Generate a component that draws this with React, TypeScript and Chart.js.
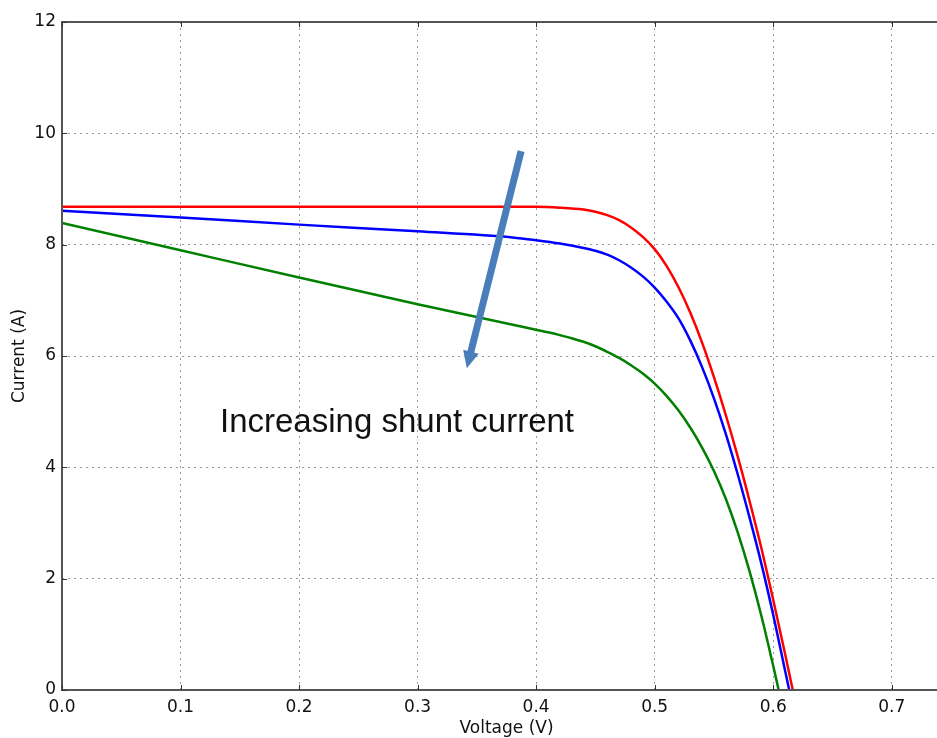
import React, { useEffect, useRef } from "react";
import { Chart, registerables } from "chart.js";

Chart.register(...registerables);

// Voltage (V) / Current (A) readings for each curve
const redV = [0, 0.1, 0.2, 0.3, 0.4, 0.42, 0.44, 0.45, 0.46, 0.47, 0.48, 0.49, 0.5, 0.51, 0.52, 0.53, 0.54, 0.55, 0.56, 0.57, 0.58, 0.59, 0.6, 0.61, 0.6165];
const redI = [8.68, 8.68, 8.68, 8.68, 8.68, 8.665, 8.63, 8.59, 8.53, 8.44, 8.31, 8.14, 7.92, 7.62, 7.24, 6.78, 6.24, 5.62, 4.94, 4.2, 3.4, 2.55, 1.62, 0.65, 0];

const blueV = [0, 0.1, 0.2, 0.3, 0.38, 0.4, 0.42, 0.44, 0.45, 0.46, 0.47, 0.48, 0.49, 0.5, 0.51, 0.52, 0.53, 0.54, 0.55, 0.56, 0.57, 0.58, 0.59, 0.6, 0.61, 0.6135];
const blueI = [8.61, 8.49, 8.36, 8.24, 8.13, 8.08, 8.02, 7.94, 7.89, 7.82, 7.72, 7.59, 7.43, 7.23, 6.98, 6.68, 6.28, 5.8, 5.24, 4.6, 3.88, 3.1, 2.27, 1.35, 0.35, 0];

const greenV = [0, 0.1, 0.2, 0.3, 0.4, 0.41, 0.42, 0.43, 0.44, 0.45, 0.46, 0.47, 0.48, 0.49, 0.5, 0.51, 0.52, 0.53, 0.54, 0.55, 0.56, 0.57, 0.58, 0.59, 0.6, 0.6046];
const greenI = [8.39, 7.9, 7.41, 6.93, 6.47, 6.425, 6.375, 6.32, 6.255, 6.175, 6.075, 5.965, 5.835, 5.685, 5.505, 5.285, 5.025, 4.715, 4.355, 3.935, 3.435, 2.835, 2.135, 1.335, 0.435, 0];

const xTickValues = [0, 0.1, 0.2, 0.3, 0.4, 0.5, 0.6, 0.7];
const yTickValues = [0, 2, 4, 6, 8, 10, 12];

const xLabel = "Voltage (V)";
const yLabel = "Current (A)";
const annotationText = "Increasing shunt current";
// arrow from (V, I) to (V, I)
const arrowStart = [0.3873, 9.68];
const arrowEnd = [0.3415, 5.78];

const zip = (xs: number[], ys: number[]) => xs.map((x, i) => ({ x, y: ys[i] }));

const overlay = {
  id: "overlay",
  afterDatasetsDraw(chart: any) {
    const { ctx, chartArea, scales } = chart;
    const { left, top, right, bottom } = chartArea;
    const xs = scales.x;
    const ys = scales.y;
    ctx.save();
    // frame
    ctx.strokeStyle = "#555";
    ctx.lineWidth = 2;
    ctx.setLineDash([]);
    ctx.beginPath();
    ctx.rect(left, top, right - left, bottom - top);
    ctx.stroke();
    // inward ticks
    ctx.lineWidth = 1;
    ctx.strokeStyle = "#333";
    ctx.beginPath();
    for (const v of xTickValues) {
      const px = Math.round(xs.getPixelForValue(v)) + 0.5;
      ctx.moveTo(px, bottom);
      ctx.lineTo(px, bottom - 5);
      ctx.moveTo(px, top);
      ctx.lineTo(px, top + 5);
    }
    for (const v of yTickValues) {
      const py = Math.round(ys.getPixelForValue(v)) + 0.5;
      ctx.moveTo(left, py);
      ctx.lineTo(left + 5, py);
      ctx.moveTo(right, py);
      ctx.lineTo(right - 5, py);
    }
    ctx.stroke();

    // arrow
    const x1 = xs.getPixelForValue(arrowStart[0]);
    const y1 = ys.getPixelForValue(arrowStart[1]);
    const x2 = xs.getPixelForValue(arrowEnd[0]);
    const y2 = ys.getPixelForValue(arrowEnd[1]);
    const ang = Math.atan2(y2 - y1, x2 - x1);
    const headLen = 17;
    const headW = 8;
    const bx = x2 - headLen * Math.cos(ang);
    const by = y2 - headLen * Math.sin(ang);
    ctx.strokeStyle = "#4a7ebb";
    ctx.fillStyle = "#4a7ebb";
    ctx.lineWidth = 7;
    ctx.lineCap = "butt";
    ctx.beginPath();
    ctx.moveTo(x1, y1);
    ctx.lineTo(bx + 2 * Math.cos(ang), by + 2 * Math.sin(ang));
    ctx.stroke();
    ctx.beginPath();
    ctx.moveTo(x2, y2);
    ctx.lineTo(bx + headW * Math.sin(ang), by - headW * Math.cos(ang));
    ctx.lineTo(bx - headW * Math.sin(ang), by + headW * Math.cos(ang));
    ctx.closePath();
    ctx.fill();

    // annotation text
    ctx.fillStyle = "#111";
    ctx.font = "33px 'Liberation Sans', Arial, sans-serif";
    ctx.textBaseline = "alphabetic";
    ctx.textAlign = "left";
    ctx.fillText(annotationText, 220, 432);

    // axis titles
    ctx.font = "17px 'DejaVu Sans', sans-serif";
    ctx.fillStyle = "#111";
    ctx.textAlign = "center";
    ctx.textBaseline = "middle";
    ctx.fillText(xLabel, (left + right) / 2, 729);
    ctx.save();
    ctx.translate(20, (top + bottom) / 2);
    ctx.rotate(-Math.PI / 2);
    ctx.fillText(yLabel, 0, 0);
    ctx.restore();
    ctx.restore();
  },
};

export default function App() {
  const ref = useRef<HTMLCanvasElement>(null);
  useEffect(() => {
    if (!ref.current) return;
    const lineDs = (label: string, xs: number[], ys: number[], color: string) => ({
      label,
      data: zip(xs, ys),
      borderColor: color,
      backgroundColor: color,
      borderWidth: 2.5,
      pointRadius: 0,
      cubicInterpolationMode: "monotone" as const,
      fill: false,
    });
    const chart = new Chart(ref.current, {
      type: "line",
      data: {
        datasets: [
          lineDs("red", redV, redI, "#ff0000"),
          lineDs("blue", blueV, blueI, "#0000ff"),
          lineDs("green", greenV, greenI, "#008000"),
        ],
      },
      options: {
        animation: false,
        responsive: false,
        devicePixelRatio: 1,
        layout: { padding: { top: 22, right: 0, left: 0, bottom: 0 } },
        plugins: { legend: { display: false }, tooltip: { enabled: false } },
        scales: {
          x: {
            type: "linear",
            min: 0,
            max: 0.75,
            afterBuildTicks: (s: any) => {
              s.ticks = xTickValues.map((v) => ({ value: v }));
            },
            afterFit: (s: any) => {
              s.height = 48;
            },
            ticks: {
              color: "#111",
              padding: 7,
              font: { family: "'DejaVu Sans', sans-serif", size: 17 },
              callback: (v: any) => Number(v).toFixed(1),
              maxRotation: 0,
            },
            grid: { color: "#9a9a9a", lineWidth: 1, drawTicks: false },
            border: { display: false, dash: [2, 4] },
          },
          y: {
            type: "linear",
            min: 0,
            max: 12,
            afterBuildTicks: (s: any) => {
              s.ticks = yTickValues.map((v) => ({ value: v }));
            },
            afterFit: (s: any) => {
              s.width = 62;
            },
            ticks: {
              color: "#111",
              padding: 6,
              font: { family: "'DejaVu Sans', sans-serif", size: 17 },
              callback: (v: any) => String(v),
            },
            grid: { color: "#9a9a9a", lineWidth: 1, drawTicks: false },
            border: { display: false, dash: [2, 4] },
          },
        },
      },
      plugins: [overlay],
    });
    return () => chart.destroy();
  }, []);
  return (
    <div
      style={{
        position: "fixed",
        left: 0,
        top: 0,
        width: 937,
        height: 738,
        overflow: "hidden",
        background: "#fff",
      }}
    >
      <canvas ref={ref} width={951} height={738} style={{ display: "block" }} />
    </div>
  );
}
